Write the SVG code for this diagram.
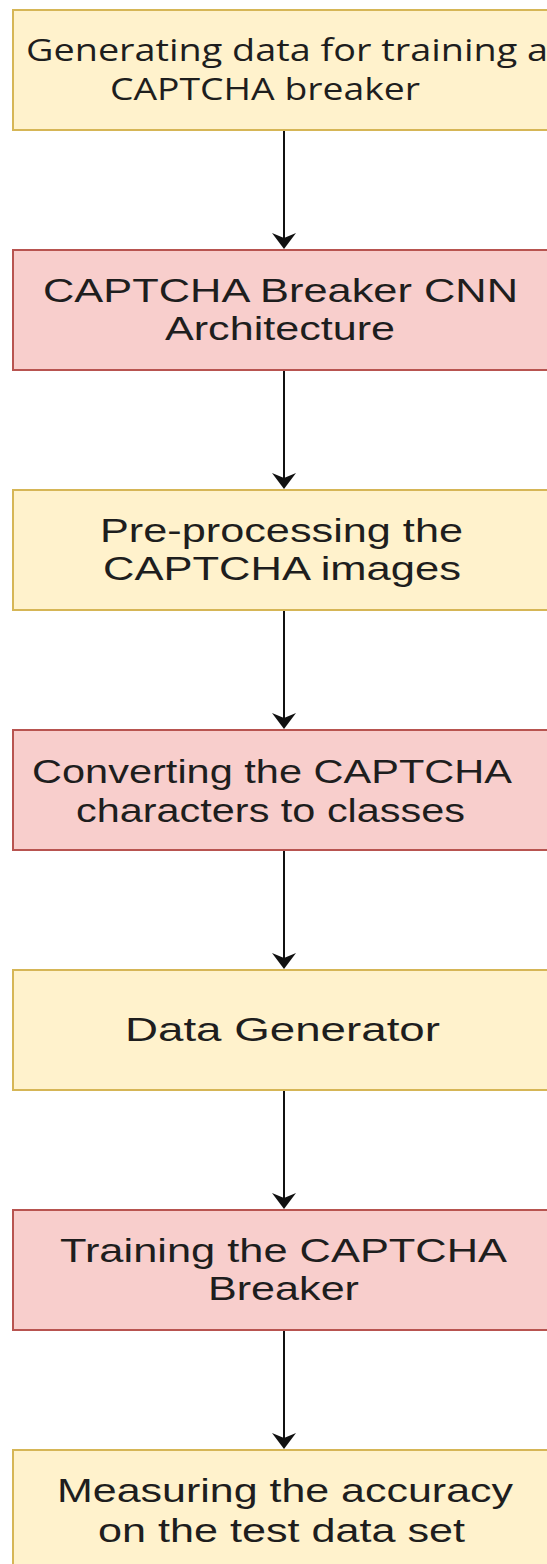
<svg xmlns="http://www.w3.org/2000/svg" width="547" height="1564" viewBox="0 0 547 1564">
  <style>
    .yel { fill: #fff2cc; stroke: #d6b656; stroke-width: 2; }
    .red { fill: #f8cecc; stroke: #b85450; stroke-width: 2; }
    .lbl { font-family: "Liberation Sans", Arial, sans-serif; font-size: 33px; fill: #1e1e1e; }
    .lbl2 { font-family: "Open Sans", "Noto Sans", sans-serif; font-size: 31px; fill: #1e1e1e; }
    .edge { stroke: #111; stroke-width: 2; fill: none; }
    .head { fill: #111; stroke: none; }
  </style>
  <defs>
    <path id="arrowhead" class="head" d="M0,0 L-12,-16 L0,-11 L12,-16 Z"/>
  </defs>
  <rect width="547" height="1564" fill="#ffffff"/>

  <g id="connectors">
    <line class="edge" x1="284" y1="130" x2="284" y2="240"/>
    <use href="#arrowhead" x="284" y="249"/>
    <line class="edge" x1="284" y1="370" x2="284" y2="480"/>
    <use href="#arrowhead" x="284" y="489"/>
    <line class="edge" x1="284" y1="610" x2="284" y2="720"/>
    <use href="#arrowhead" x="284" y="729"/>
    <line class="edge" x1="284" y1="850" x2="284" y2="960"/>
    <use href="#arrowhead" x="284" y="969"/>
    <line class="edge" x1="284" y1="1090" x2="284" y2="1200"/>
    <use href="#arrowhead" x="284" y="1209"/>
    <line class="edge" x1="284" y1="1330" x2="284" y2="1440"/>
    <use href="#arrowhead" x="284" y="1449"/>
  </g>

  <g id="node-generating">
    <rect class="yel" x="13" y="10" width="544" height="120"/>
    <text class="lbl2" x="26" y="61" textLength="522" lengthAdjust="spacingAndGlyphs">Generating data for training a</text>
    <text class="lbl2" x="110" y="100" textLength="310" lengthAdjust="spacingAndGlyphs">CAPTCHA breaker</text>
  </g>

  <g id="node-architecture">
    <rect class="red" x="13" y="250" width="544" height="120"/>
    <text class="lbl" x="43" y="302" textLength="475" lengthAdjust="spacingAndGlyphs">CAPTCHA Breaker CNN</text>
    <text class="lbl" x="165" y="340" textLength="230" lengthAdjust="spacingAndGlyphs">Architecture</text>
  </g>

  <g id="node-preprocessing">
    <rect class="yel" x="13" y="490" width="544" height="120"/>
    <text class="lbl" x="100" y="542" textLength="363" lengthAdjust="spacingAndGlyphs">Pre-processing the</text>
    <text class="lbl" x="103" y="580" textLength="358" lengthAdjust="spacingAndGlyphs">CAPTCHA images</text>
  </g>

  <g id="node-converting">
    <rect class="red" x="13" y="730" width="544" height="120"/>
    <text class="lbl" x="32" y="783" textLength="480" lengthAdjust="spacingAndGlyphs">Converting the CAPTCHA</text>
    <text class="lbl" x="76" y="822" textLength="389" lengthAdjust="spacingAndGlyphs">characters to classes</text>
  </g>

  <g id="node-datagen">
    <rect class="yel" x="13" y="970" width="544" height="120"/>
    <text class="lbl" x="125" y="1041" textLength="315" lengthAdjust="spacingAndGlyphs">Data Generator</text>
  </g>

  <g id="node-training">
    <rect class="red" x="13" y="1210" width="544" height="120"/>
    <text class="lbl" x="60" y="1262" textLength="447" lengthAdjust="spacingAndGlyphs">Training the CAPTCHA</text>
    <text class="lbl" x="208" y="1300" textLength="151" lengthAdjust="spacingAndGlyphs">Breaker</text>
  </g>

  <g id="node-accuracy">
    <rect class="yel" x="13" y="1450" width="544" height="120"/>
    <text class="lbl" x="57" y="1502" textLength="456" lengthAdjust="spacingAndGlyphs">Measuring the accuracy</text>
    <text class="lbl" x="98" y="1542" textLength="367" lengthAdjust="spacingAndGlyphs">on the test data set</text>
  </g>
</svg>
